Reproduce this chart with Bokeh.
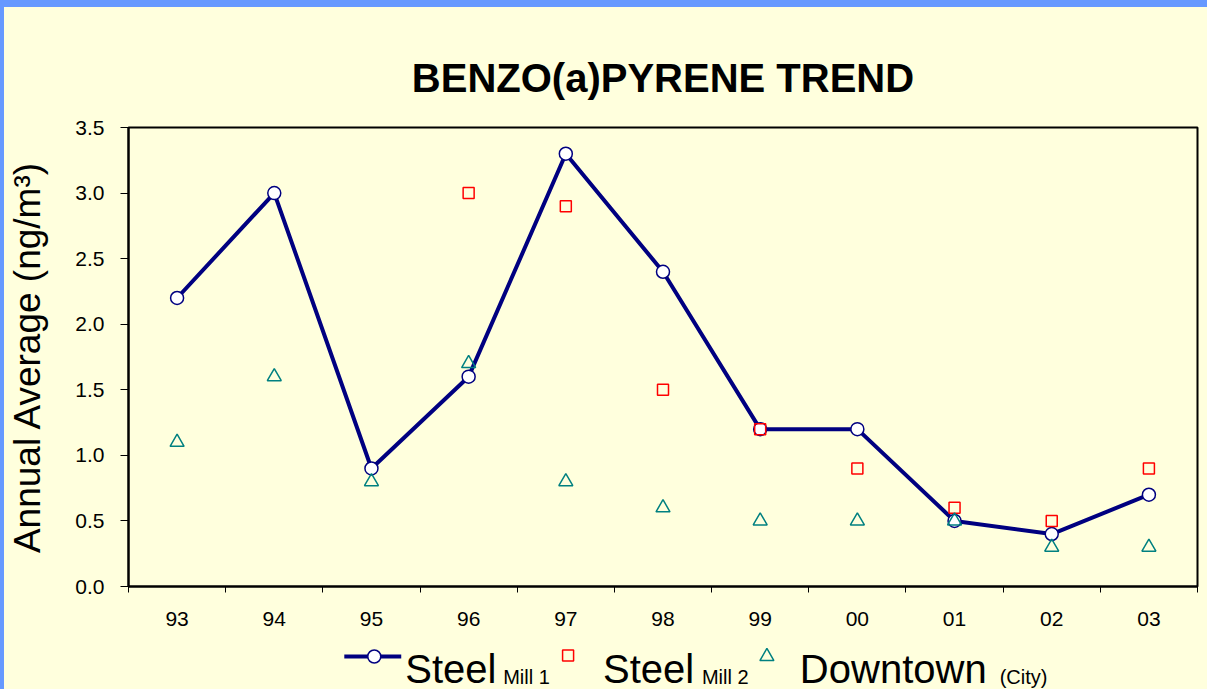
import math
from bokeh.plotting import figure
from bokeh.models import FixedTicker, Range1d, NumeralTickFormatter, Div
from bokeh.layouts import column, row
from bokeh.embed import file_html
from bokeh.resources import INLINE
from bokeh.core.properties import value

# ---------------- data ----------------
years = ["93", "94", "95", "96", "97", "98", "99", "00", "01", "02", "03"]
steel_mill_1 = [2.2, 3.0, 0.9, 1.6, 3.3, 2.4, 1.2, 1.2, 0.5, 0.4, 0.7]
steel_mill_2 = [math.nan, math.nan, math.nan, 3.0, 2.9, 1.5, 1.2, 0.9, 0.6, 0.5, 0.9]
downtown = [1.1, 1.6, 0.8, 1.7, 0.8, 0.6, 0.5, 0.5, 0.5, 0.3, 0.3]
y_ticks = [0.0, 0.5, 1.0, 1.5, 2.0, 2.5, 3.0, 3.5]
legend_main = ["Steel", "Steel", "Downtown"]
legend_sub = ["Mill 1", "Mill 2", "(City)"]
title_text = "BENZO(a)PYRENE TREND"
y_label = "Annual Average (ng/m³)"

# ---------------- style ----------------
BG = "#FFFFDD"
BLUE = "#6699FF"
FONT = "Liberation Sans"
NAVY = "#000080"
RED = "#FF0000"
TEAL = "#008080"
W_ALL = 1207
H_ALL = 689
TOP_STRIP = 7
LEFT_STRIP = 4
W = W_ALL - LEFT_STRIP
H_MAIN = 633
H_LEG = H_ALL - TOP_STRIP - H_MAIN
MB_LEFT = 123
MB_RIGHT = 10
FRAME_L = LEFT_STRIP + MB_LEFT          # page x of frame left
FRAME_R = W_ALL - MB_RIGHT              # page x of frame right

xs = list(range(1, len(years) + 1))

p = figure(width=W, height=H_MAIN,
           x_range=Range1d(0.5, len(years) + 0.5), y_range=Range1d(0, 3.5),
           output_backend="svg", toolbar_location=None,
           min_border_left=MB_LEFT, min_border_top=120, min_border_right=MB_RIGHT,
           min_border_bottom=54,
           background_fill_color=BG, border_fill_color=BG,
           outline_line_color="black", outline_line_width=2,
           title=title_text, margin=0)

p.title.align = "center"
p.title.text_font = FONT
p.title.text_font_size = "40px"
p.title.text_font_style = "bold"
p.title.text_color = "black"
p.title.standoff = 55

p.xgrid.visible = False
p.ygrid.visible = False

# x axis: labels at category centres, ticks at category boundaries
xa = p.xaxis[0]
xa.ticker = FixedTicker(ticks=xs, minor_ticks=[i + 0.5 for i in range(0, len(years) + 1)])
xa.major_label_overrides = {x: yr for x, yr in zip(xs, years)}
xa.major_tick_out = 0
xa.major_tick_in = 0
xa.minor_tick_out = 6
xa.minor_tick_in = 0
xa.minor_tick_line_color = "black"
xa.minor_tick_line_width = 1
xa.axis_line_color = "black"
xa.axis_line_width = 2
xa.major_label_text_font = FONT
xa.major_label_text_font_size = "21px"
xa.major_label_text_color = "black"
xa.major_label_standoff = 19

ya = p.yaxis[0]
ya.ticker = FixedTicker(ticks=y_ticks)
ya.formatter = NumeralTickFormatter(format="0.0")
ya.major_tick_out = 8
ya.major_tick_in = 0
ya.major_tick_line_color = "black"
ya.minor_tick_out = 0
ya.minor_tick_in = 0
ya.axis_line_color = "black"
ya.axis_line_width = 2
ya.major_label_text_font = FONT
ya.major_label_text_font_size = "21px"
ya.major_label_text_color = "black"
ya.major_label_standoff = 16
ya.axis_label = y_label
ya.axis_label_text_font = FONT
ya.axis_label_text_font_size = "37px"
ya.axis_label_text_font_style = "normal"
ya.axis_label_text_color = "black"
ya.axis_label_standoff = 24

p.line(xs, steel_mill_1, line_color=NAVY, line_width=4)
p.scatter(xs, steel_mill_1, marker="circle", size=13, fill_color="white",
          line_color=NAVY, line_width=1.5)
p.scatter(xs, steel_mill_2, marker="square", size=11, fill_alpha=0,
          line_color=RED, line_width=1.5)
p.scatter(xs, downtown, marker="triangle", size=14, fill_alpha=0,
          line_color=TEAL, line_width=1.5)

# ---------------- legend strip (x in page pixels, frame aligned with chart) ----------------
lg = figure(width=W, height=H_LEG, x_range=Range1d(FRAME_L, FRAME_R), y_range=Range1d(H_LEG, 0),
            output_backend="svg", toolbar_location=None,
            min_border_left=MB_LEFT, min_border_right=MB_RIGHT, min_border_top=0, min_border_bottom=0,
            background_fill_color=BG, border_fill_color=BG, outline_line_color=None,
            x_axis_type=None, y_axis_type=None, margin=0)
lg.xgrid.visible = False
lg.ygrid.visible = False

LY = 16
lg.line([343, 400], [LY, LY], line_color=NAVY, line_width=4)
lg.scatter([373], [LY], marker="circle", size=13, fill_color="white", line_color=NAVY, line_width=1.5)
lg.scatter([567], [LY - 1], marker="square", size=11, fill_alpha=0, line_color=RED, line_width=1.5)
lg.scatter([766], [LY], marker="triangle", size=14, fill_alpha=0, line_color=TEAL, line_width=1.5)

lg.text(x=[404, 602, 799], y=[28] * 3, text=legend_main,
        text_font=value(FONT), text_font_size="40px", text_color="black",
        text_baseline="alphabetic", text_align="left")
lg.text(x=[502, 701, 999], y=[36.5] * 3, text=legend_sub,
        text_font=value(FONT), text_font_size="20px", text_color="black",
        text_baseline="alphabetic", text_align="left")

# ---------------- blue frame strips ----------------
top = Div(text="", width=W_ALL, height=TOP_STRIP, margin=0,
          styles={"background-color": BLUE, "padding": "0px"})
left = Div(text="", width=LEFT_STRIP, height=H_ALL - TOP_STRIP, margin=0,
           styles={"background-color": BLUE, "padding": "0px"})

chart = column(p, lg, spacing=0, margin=0, styles={"background-color": BG})
layout = column(top, row(left, chart, spacing=0, margin=0), spacing=0, margin=0)

open("out.html", "w").write(file_html(layout, INLINE))
